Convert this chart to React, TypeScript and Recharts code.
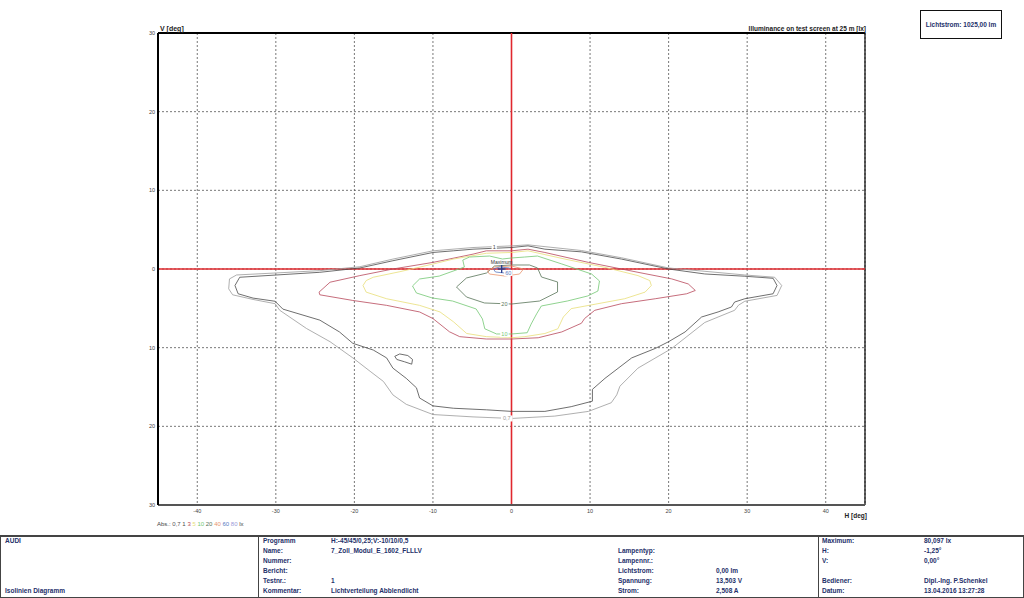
import { ScatterChart, Scatter, XAxis, YAxis, CartesianGrid, ReferenceLine, ReferenceDot } from "recharts";

type Pt = [number, number];

// isolux contours, [H deg, V deg]
const iso07: Pt[] = [
  [0, 2.94], [-4.9, 2.73], [-10, 2.31], [-15.1, 1.26], [-19.3, 0.29], [-24.4, -0.21], [-29.9, -0.5],
  [-35, -0.76], [-35.9, -1.26], [-36, -2.52], [-35.5, -3.28], [-32.9, -3.87], [-30.1, -4.41],
  [-29.5, -5.25], [-26.1, -7.56], [-23.1, -9.24], [-20.2, -11.3], [-18, -13], [-16.3, -14.3],
  [-15.1, -16], [-13.4, -17.2], [-10, -18.5], [-4.9, -18.8], [0, -19.0],
  [5.5, -18.7], [9.8, -18.1], [12.7, -17], [13.4, -16], [13.8, -14.9], [16.1, -12.6], [20.4, -10.1],
  [24.6, -6.8], [26.8, -5.9], [28.4, -5.25], [28.9, -4.6], [29.7, -4.1], [33.8, -3.36], [34.4, -2.1],
  [33.5, -1.05], [29.7, -0.76], [20, 0.13], [14, 1.43], [8.9, 2.35], [2.1, 3.07], [0, 2.94],
];

const iso1: Pt[] = [
  [0, 2.73], [-4.9, 2.52], [-7.4, 2.31], [-10, 2.1], [-15.1, 1.05], [-19.3, 0.13], [-24.4, -0.42],
  [-29.9, -0.76], [-34.6, -1.05], [-35.2, -2.1], [-34.8, -3.15], [-32.9, -3.7], [-30.1, -4.1],
  [-29.1, -5.1], [-24.4, -6.5], [-21.9, -8.0], [-20.2, -9.45], [-17.6, -10.3], [-15.9, -11.3],
  [-15.1, -12.6], [-13.4, -13.9], [-12.1, -15.1], [-11.7, -16.4], [-10, -17.4], [-7.4, -17.7],
  [-3.2, -17.9], [0, -18.1],
  [4.25, -18.1], [7.6, -17.5], [10.3, -16.8], [10.3, -15.3], [11.9, -13.9], [15.3, -11.3],
  [18.3, -10.1], [20, -9.24], [22.1, -8.0], [24.2, -6.1], [26.3, -5.46], [28.0, -4.83], [28.4, -4.2],
  [29.7, -3.78], [33.3, -3.15], [33.8, -2.1], [33.3, -1.18], [29.7, -0.92], [24.6, -0.63], [20, 0],
  [14, 1.26], [8.9, 2.18], [4.25, 2.52], [2.1, 2.94], [0, 2.73],
];

const iso1Island: Pt[] = [
  [-14.86, -11.1], [-14.23, -10.8], [-13.2, -11.0], [-12.6, -11.5], [-12.7, -12.1], [-13.6, -11.8],
  [-14.6, -11.5], [-14.86, -11.1],
];

const iso3: Pt[] = [
  [0, 2.31], [-3.2, 2.31], [-4.9, 1.89], [-10, 0.84], [-15.1, 0], [-19.3, -0.84], [-23.1, -1.68],
  [-24.5, -2.94], [-24.4, -3.28], [-20.2, -4.0], [-15.9, -4.62], [-11.7, -5.46], [-10, -6.3],
  [-7.9, -7.98], [-6.6, -8.6], [-3.2, -8.9], [0, -8.9],
  [3.4, -8.74], [6.4, -8.0], [8.9, -6.9], [9.3, -6.3], [10.6, -5.25], [14, -4.41], [18.3, -3.78],
  [22.3, -3.15], [23.4, -2.73], [22.5, -1.9], [20.4, -1.26], [16.1, -0.42], [9.8, 0.84], [4.25, 2.1],
  [2.1, 2.52], [0, 2.31],
];

const iso5: Pt[] = [
  [0, 2.1], [-3.2, 2.0], [-7.4, 1.26], [-10, 0.63], [-14.2, -0.34], [-17.6, -1.05], [-18.5, -1.47],
  [-18.9, -2.1], [-18.5, -2.94], [-15.9, -3.78], [-11.7, -4.62], [-9.1, -5.46], [-7.4, -6.7],
  [-5.7, -8.2], [-3.2, -8.6], [0, -8.74],
  [1.7, -8.6], [4.25, -8.2], [5.9, -7.6], [6.6, -6.1], [7.6, -5.04], [11, -4.41], [14.4, -3.78],
  [17, -2.94], [17.8, -2.1], [17.6, -1.47], [16.1, -0.84], [11.9, 0.21], [6.8, 1.26], [2.1, 2.31],
  [0, 2.1],
];

const iso10: Pt[] = [
  [0, 1.4], [-1.15, 1.27], [-2.8, 1.65], [-5.35, 1.52], [-6.2, 1.14], [-6.0, 0.25], [-9.2, -0.9],
  [-11.7, -1.27], [-12.6, -2.16], [-12.1, -3.05], [-10.1, -3.68], [-7.5, -4.07], [-4.5, -5.08],
  [-3.7, -6.35], [-3.4, -7.6], [-1.9, -8.26], [0, -8.26],
  [2.0, -8.1], [2.5, -7.0], [3.2, -5.7], [3.8, -4.7], [7.1, -4.07], [9.7, -3.43], [11.0, -2.8],
  [11.2, -1.52], [10.2, -0.64], [6.4, 0.64], [3.3, 1.65], [1.66, 1.52], [0, 1.4],
];

const iso20: Pt[] = [
  [0, 0.51], [2.29, 0.51], [3.31, 0.13], [3.82, -1.02], [5.86, -1.65], [5.86, -2.92], [3.57, -4.07],
  [0, -4.45], [-3.44, -4.32], [-5.73, -3.56], [-7.0, -2.29], [-5.73, -1.14], [-3.18, -0.51],
  [-2.17, 0.38], [0, 0.51],
];

const iso40: Pt[] = [
  [-3.06, -0.25], [-2.17, 0.25], [0, 0.38], [1.53, 0], [1.02, -0.64], [-0.89, -0.89], [-2.8, -0.64],
  [-3.06, -0.25],
];

const iso60: Pt[] = [
  [-2.3, 0], [-1.53, 0.25], [-0.25, 0.13], [0, -0.25], [-0.89, -0.51], [-2.04, -0.38], [-2.3, 0],
];

const levels = ["0,7", "1", "3", "5", "10", "20", "40", "60", "80"];
const levelColors = ["#9a9a9a", "#4a4a4a", "#b8485a", "#e8de78", "#74c874", "#587458", "#e8946e", "#5878c0", "#9a9ad8"];

const contours: { pts: Pt[]; level: number }[] = [
  { pts: iso07, level: 0 },
  { pts: iso1, level: 1 },
  { pts: iso1Island, level: 1 },
  { pts: iso3, level: 2 },
  { pts: iso5, level: 3 },
  { pts: iso10, level: 4 },
  { pts: iso20, level: 5 },
  { pts: iso40, level: 6 },
  { pts: iso60, level: 7 },
];

const isoLabels = [
  { h: -2.2, v: 2.8, level: 1 },
  { h: -0.9, v: -4.4, level: 5 },
  { h: -0.9, v: -8.3, level: 4 },
  { h: -0.6, v: -19.0, level: 0 },
  { h: -0.4, v: -0.5, level: 7 },
];

const maxH = -1.25;
const maxV = 0;

const hTicks = [-40, -30, -20, -10, 0, 10, 20, 30, 40];
const vTicks = [-30, -20, -10, 0, 10, 20, 30];

const infoLeft = [
  ["Programm", "H:-45/45/0,25;V:-10/10/0,5"],
  ["Name:", "7_Zoll_Modul_E_1602_FLLLV"],
  ["Nummer:", ""],
  ["Bericht:", ""],
  ["Testnr.:", "1"],
  ["Kommentar:", "Lichtverteilung Abblendlicht"],
];
const infoMid = [
  ["", ""],
  ["Lampentyp:", ""],
  ["Lampennr.:", ""],
  ["Lichtstrom:", "0,00 lm"],
  ["Spannung:", "13,503 V"],
  ["Strom:", "2,508 A"],
];
const infoRight = [
  ["Maximum:", "80,097 lx"],
  ["H:", "-1,25°"],
  ["V:", "0,00°"],
  ["", ""],
  ["Bediener:", "Dipl.-Ing. P.Schenkel"],
  ["Datum:", "13.04.2016 13:27:28"],
];

const toData = (pts: Pt[]) => pts.map(([h, v]) => ({ h, v }));
const noDot = () => <g />;

const navy = "#24306a";
const font = "Arial, 'Liberation Sans', sans-serif";

const IsoLabel = (props: any) => {
  const { cx, cy, text, color } = props;
  const w = text.length * 3.2 + 2;
  return (
    <g>
      <rect x={cx - w / 2} y={cy - 3} width={w} height={6} fill="#fff" />
      <text x={cx} y={cy + 2} textAnchor="middle" fontSize={5.5} fill={color} fontFamily={font}>
        {text}
      </text>
    </g>
  );
};

const MaxMarker = (props: any) => {
  const { cx, cy } = props;
  return (
    <g>
      <line x1={cx - 4} x2={cx + 4} y1={cy} y2={cy} stroke="#283c8c" strokeWidth={1.3} />
      <line x1={cx} x2={cx} y1={cy - 4} y2={cy + 4} stroke="#283c8c" strokeWidth={1.3} />
      <text x={cx} y={cy - 5} textAnchor="middle" fontSize={5} fill="#333" fontFamily={font}>
        Maximum
      </text>
    </g>
  );
};

const cell = (left: number, top: number, text: string, extra: any = {}) => (
  <div
    key={`${left}-${top}-${text}`}
    style={{ position: "absolute", left, top, fontSize: 6.5, fontWeight: "bold", color: navy, whiteSpace: "nowrap", lineHeight: "8px", ...extra }}
  >
    {text}
  </div>
);

const rowTop = (i: number) => 537 + i * 9.9;

export default function App() {
  return (
    <div style={{ position: "absolute", left: 0, top: 0, width: 1024, height: 598, background: "#fff", fontFamily: font, overflow: "hidden" }}>
      <ScatterChart width={1024} height={530} margin={{ top: 33, right: 159, bottom: 5, left: 148 }}>
        <CartesianGrid stroke="#555" strokeDasharray="2 2" strokeWidth={0.8} />
        <XAxis
          type="number"
          dataKey="h"
          domain={[-45, 45]}
          ticks={hTicks}
          allowDataOverflow
          height={20}
          tickLine={false}
          tickSize={2}
          axisLine={{ stroke: "#555", strokeWidth: 2 }}
          tick={{ fontSize: 5.5, fill: "#444", fontFamily: font }}
        />
        <YAxis
          type="number"
          dataKey="v"
          domain={[-30, 30]}
          ticks={vTicks}
          allowDataOverflow
          width={10}
          tickLine={false}
          tickSize={1}
          axisLine={{ stroke: "#000", strokeWidth: 2 }}
          tickFormatter={(t: number) => String(Math.abs(t))}
          tick={{ fontSize: 5.5, fill: "#444", fontFamily: font }}
        />
        <ReferenceLine y={30} stroke="#000" strokeWidth={2} />
        <ReferenceLine x={45} stroke="#000" strokeWidth={1.2} />
        {contours.map((c, i) => (
          <Scatter
            key={i}
            data={toData(c.pts)}
            line={{ stroke: levelColors[c.level], strokeWidth: 0.8 }}
            shape={noDot}
            isAnimationActive={false}
          />
        ))}
        <ReferenceLine x={0} stroke="#e0282e" strokeWidth={1.6} />
        <ReferenceLine y={0} stroke="#e0282e" strokeWidth={1.6} />
        {isoLabels.map((l, i) => (
          <ReferenceDot
            key={i}
            x={l.h}
            y={l.v}
            r={0}
            shape={(p: any) => <IsoLabel {...p} text={levels[l.level]} color={levelColors[l.level]} />}
          />
        ))}
        <ReferenceDot x={maxH} y={maxV} r={0} shape={(p: any) => <MaxMarker {...p} />} />
      </ScatterChart>

      <div style={{ position: "absolute", left: 160, top: 25, fontSize: 7, fontWeight: "bold", color: "#222", lineHeight: "8px" }}>V [deg]</div>
      <div style={{ position: "absolute", right: 1024 - 866, top: 25, fontSize: 6.5, fontWeight: "bold", color: "#222", lineHeight: "8px", whiteSpace: "nowrap" }}>
        Illuminance on test screen at 25 m [lx]
      </div>
      <div style={{ position: "absolute", right: 1024 - 867, top: 512, fontSize: 6.5, fontWeight: "bold", color: "#222", lineHeight: "8px" }}>H [deg]</div>

      <div
        style={{
          position: "absolute", left: 920, top: 10, width: 82, height: 29, border: "1.5px solid #111",
          boxSizing: "border-box", display: "flex", alignItems: "center", justifyContent: "center",
          fontSize: 6.5, fontWeight: "bold", color: navy, whiteSpace: "nowrap",
        }}
      >
        Lichtstrom: 1025,00 lm
      </div>

      <div style={{ position: "absolute", left: 157, top: 520, fontSize: 6, color: "#444", lineHeight: "8px", whiteSpace: "nowrap" }}>
        Abs.: {levels.map((l, i) => (
          <span key={l} style={{ color: i === 0 ? "#555" : levelColors[i] }}>{l} </span>
        ))}lx
      </div>

      {/* info table */}
      <div style={{ position: "absolute", left: 0, top: 535, width: 1024, height: 63, borderTop: "2px solid #444", borderBottom: "1px solid #444", borderLeft: "1px solid #444", borderRight: "1px solid #444", boxSizing: "border-box" }} />
      <div style={{ position: "absolute", left: 258, top: 536, width: 1, height: 61, background: "#444" }} />
      <div style={{ position: "absolute", left: 818, top: 536, width: 1, height: 61, background: "#444" }} />
      {cell(5, rowTop(0), "AUDI")}
      {cell(5, rowTop(5), "Isolinien Diagramm")}
      {infoLeft.map(([k, v], i) => [cell(263, rowTop(i), k), cell(331, rowTop(i), v)])}
      {infoMid.map(([k, v], i) => [cell(618, rowTop(i), k), cell(716, rowTop(i), v)])}
      {infoRight.map(([k, v], i) => [cell(822, rowTop(i), k), cell(924, rowTop(i), v)])}
    </div>
  );
}
